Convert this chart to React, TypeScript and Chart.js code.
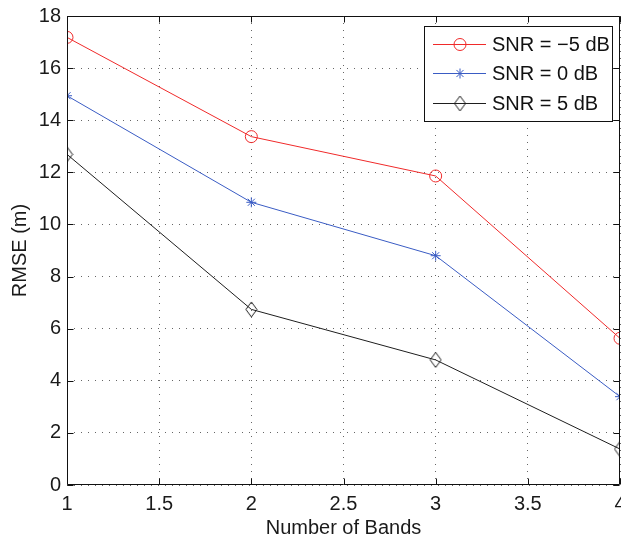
import React, { useEffect, useRef } from "react";
import { Chart, registerables } from "chart.js";

Chart.register(...registerables);

// ---- data ----
const bands = [1, 2, 3, 4];
const snrMinus5 = [17.18, 13.37, 11.86, 5.63];
const snr0 = [14.94, 10.85, 8.8, 3.39];
const snr5 = [12.69, 6.74, 4.8, 1.38];
const seriesLabels = ["SNR = \u22125 dB", "SNR = 0 dB", "SNR = 5 dB"];
const xTickValues = [1, 1.5, 2, 2.5, 3, 3.5, 4];
const yTickValues = [0, 2, 4, 6, 8, 10, 12, 14, 16, 18];
const xTitle = "Number of Bands";
const yTitle = "RMSE (m)";

const FONT = "'Liberation Sans', Arial, Helvetica, sans-serif";
const RED = "#f02a2a";
const BLUE = "#3a5cc4";
const BLACK = "#1e1e1e";
const CANVAS_W = 628;
const VIEW_W = 621;
const VIEW_H = 541;

function makeDiamond(color: string): HTMLCanvasElement {
  const c = document.createElement("canvas");
  c.width = 13;
  c.height = 17;
  const ctx = c.getContext("2d")!;
  ctx.strokeStyle = color;
  ctx.lineWidth = 1;
  ctx.beginPath();
  ctx.moveTo(6.5, 1);
  ctx.lineTo(12, 8.5);
  ctx.lineTo(6.5, 16);
  ctx.lineTo(1, 8.5);
  ctx.closePath();
  ctx.stroke();
  return c;
}

function drawMarker(ctx: CanvasRenderingContext2D, kind: string, x: number, y: number, color: string, diamond: HTMLCanvasElement) {
  ctx.save();
  ctx.strokeStyle = color;
  ctx.lineWidth = 1;
  if (kind === "circle") {
    ctx.beginPath();
    ctx.arc(x, y, 6, 0, Math.PI * 2);
    ctx.stroke();
  } else if (kind === "star") {
    const r = 5;
    ctx.beginPath();
    ctx.moveTo(x - r, y);
    ctx.lineTo(x + r, y);
    ctx.moveTo(x, y - r);
    ctx.lineTo(x, y + r);
    const d = r * Math.SQRT1_2;
    ctx.moveTo(x - d, y - d);
    ctx.lineTo(x + d, y + d);
    ctx.moveTo(x - d, y + d);
    ctx.lineTo(x + d, y - d);
    ctx.stroke();
  } else {
    ctx.drawImage(diamond, x - diamond.width / 2, y - diamond.height / 2);
  }
  ctx.restore();
}

export default function App() {
  const ref = useRef<HTMLCanvasElement | null>(null);

  useEffect(() => {
    document.body.style.margin = "0";
    const canvas = ref.current;
    if (!canvas) return;
    const diamond = makeDiamond(BLACK);

    const seriesValues = [snrMinus5, snr0, snr5];
    const colors = [RED, BLUE, BLACK];
    const styles: any[] = ["circle", "star", diamond];
    const kinds = ["circle", "star", "diamond"];

    const frame = {
      id: "matlabFrame",
      afterDraw(chart: any) {
        const { ctx, chartArea } = chart;
        const { left, right, top, bottom } = chartArea;
        const xs = chart.scales.x;
        const ys = chart.scales.y;
        ctx.save();
        ctx.strokeStyle = "#111";
        ctx.lineWidth = 1;
        const L = Math.round(left) + 0.5;
        const R = Math.round(right) - 0.5;
        const T = Math.round(top) + 0.5;
        const B = Math.round(bottom) - 0.5;
        ctx.beginPath();
        ctx.rect(L, T, R - L, B - T);
        ctx.stroke();
        const tl = 6;
        ctx.beginPath();
        xTickValues.forEach((v) => {
          const px = Math.round(xs.getPixelForValue(v)) + 0.5;
          ctx.moveTo(px, B);
          ctx.lineTo(px, B - tl);
          ctx.moveTo(px, T);
          ctx.lineTo(px, T + tl);
        });
        yTickValues.forEach((v) => {
          const py = Math.round(ys.getPixelForValue(v)) + 0.5;
          ctx.moveTo(L, py);
          ctx.lineTo(L + tl, py);
          ctx.moveTo(R, py);
          ctx.lineTo(R - tl, py);
        });
        ctx.stroke();

        // legend
        const bx = 424.5, by = 26.5, bw = 188, bh = 95;
        ctx.fillStyle = "#fff";
        ctx.fillRect(bx, by, bw, bh);
        ctx.strokeStyle = "#111";
        ctx.strokeRect(bx, by, bw, bh);
        const rowsY = [44, 73, 103];
        ctx.font = `20px ${FONT}`;
        ctx.textBaseline = "middle";
        ctx.textAlign = "left";
        seriesLabels.forEach((lab, i) => {
          const y = rowsY[i] + 0.5;
          ctx.strokeStyle = colors[i];
          ctx.lineWidth = 1;
          ctx.beginPath();
          ctx.moveTo(433, y);
          ctx.lineTo(486, y);
          ctx.stroke();
          drawMarker(ctx, kinds[i], 460, y, colors[i], diamond);
          ctx.fillStyle = "#111";
          ctx.fillText(lab, 492, rowsY[i] + 1);
        });
        ctx.restore();
      },
    };

    const chart = new Chart(canvas, {
      type: "line",
      data: {
        datasets: seriesLabels.map((lab, i) => ({
          label: lab,
          data: bands.map((b, j) => ({ x: b, y: seriesValues[i][j] })),
          borderColor: colors[i],
          backgroundColor: "rgba(0,0,0,0)",
          borderWidth: 1,
          pointStyle: styles[i],
          pointRadius: i === 0 ? 6 : i === 1 ? 5 : 7,
          pointBorderWidth: 1,
          pointBorderColor: colors[i],
          pointBackgroundColor: "rgba(0,0,0,0)",
          tension: 0,
        })),
      },
      options: {
        animation: false,
        responsive: false,
        maintainAspectRatio: false,
        devicePixelRatio: 1,
        layout: { padding: { top: 16, right: 0, left: 0, bottom: 0 } },
        plugins: {
          legend: { display: false },
          tooltip: { enabled: false },
        },
        scales: {
          x: {
            type: "linear",
            min: 1,
            max: 4,
            afterBuildTicks(scale: any) {
              scale.ticks = xTickValues.map((v) => ({ value: v }));
            },
            ticks: {
              font: { family: FONT, size: 20 },
              color: "#1a1a1a",
              padding: 7,
              maxRotation: 0,
              autoSkip: false,
              callback: (v: any) => String(v),
            },
            grid: {
              color: "#666",
              lineWidth: 1,
              drawTicks: false,
            },
            border: { display: false, dash: [1, 6] },
            title: {
              display: true,
              text: xTitle,
              font: { family: FONT, size: 20 },
              color: "#1a1a1a",
              padding: { top: 0, bottom: 1 },
            },
            afterFit(scale: any) {
              scale.height = 56;
              scale.paddingLeft = 0;
              scale.paddingRight = 0;
            },
          } as any,
          y: {
            type: "linear",
            min: 0,
            max: 18,
            afterBuildTicks(scale: any) {
              scale.ticks = yTickValues.map((v) => ({ value: v }));
            },
            ticks: {
              font: { family: FONT, size: 20 },
              color: "#1a1a1a",
              padding: 6,
              autoSkip: false,
              callback: (v: any) => String(v),
            },
            grid: {
              color: "#666",
              lineWidth: 1,
              drawTicks: false,
            },
            border: { display: false, dash: [1, 6] },
            title: {
              display: true,
              text: yTitle,
              font: { family: FONT, size: 20 },
              color: "#1a1a1a",
              padding: { top: 8, bottom: 0 },
            },
            afterFit(scale: any) {
              scale.width = 67;
              scale.paddingTop = 0;
              scale.paddingBottom = 0;
            },
          } as any,
        },
      },
      plugins: [frame],
    });

    return () => chart.destroy();
  }, []);

  return (
    <div style={{ width: VIEW_W, height: VIEW_H, overflow: "hidden", position: "relative" }}>
      <canvas
        ref={ref}
        width={CANVAS_W}
        height={VIEW_H}
        style={{ display: "block", width: CANVAS_W, height: VIEW_H }}
      />
    </div>
  );
}
